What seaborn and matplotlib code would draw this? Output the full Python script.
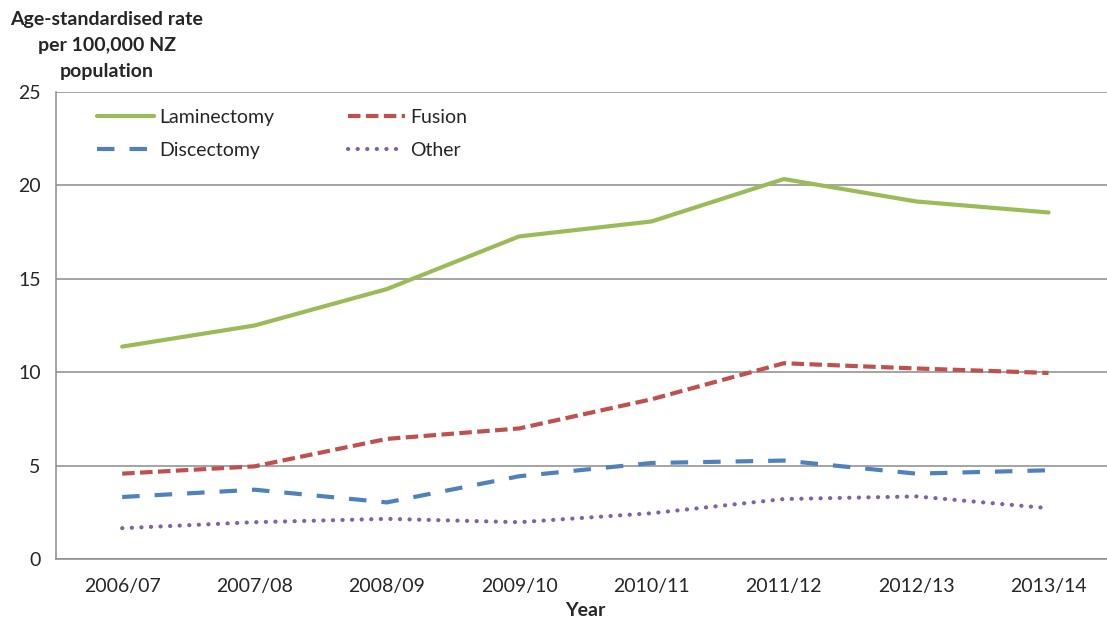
import matplotlib
matplotlib.use("Agg")
import matplotlib.pyplot as plt
import seaborn as sns
import pandas as pd
from matplotlib.lines import Line2D

# Surgical procedure rates by financial year
years = ["2006/07", "2007/08", "2008/09", "2009/10",
         "2010/11", "2011/12", "2012/13", "2013/14"]
laminectomy = [11.37, 12.50, 14.45, 17.27, 18.07, 20.34, 19.14, 18.55]
fusion = [4.57, 4.96, 6.43, 6.99, 8.55, 10.48, 10.20, 9.96]
discectomy = [3.32, 3.71, 3.03, 4.43, 5.14, 5.27, 4.57, 4.75]
other = [1.65, 1.97, 2.15, 1.97, 2.45, 3.21, 3.35, 2.72]

series_names = ["Laminectomy", "Fusion", "Discectomy", "Other"]
y_ticks = [0, 5, 10, 15, 20, 25]

colors = {"Laminectomy": "#9BBB59", "Fusion": "#C0504D",
          "Discectomy": "#4F81BD", "Other": "#8064A2"}
dash_styles = {"Laminectomy": "", "Fusion": (3.0, 1.3),
               "Discectomy": (4.2, 3.6), "Other": (0.05, 2.25)}
cap_styles = {"Laminectomy": "round", "Fusion": "butt",
              "Discectomy": "butt", "Other": "round"}

df = pd.DataFrame({
    "Year": years * 4,
    "Rate": laminectomy + fusion + discectomy + other,
    "Procedure": sum([[n] * len(years) for n in series_names], []),
})

sns.set_theme(style="white")
plt.rcParams["font.family"] = ["Lato", "DejaVu Sans"]
FS = 14

fig = plt.figure(figsize=(11.07, 6.21), dpi=100)
ax = fig.add_axes([56 / 1107, 1 - 559 / 621, (1114.7 - 56) / 1107, (559 - 92) / 621])

sns.lineplot(data=df, x="Year", y="Rate", hue="Procedure", style="Procedure",
             hue_order=series_names, style_order=series_names,
             palette=colors, dashes=dash_styles, linewidth=3.0,
             sort=False, legend=False, ax=ax)

lines = {n: l for n, l in zip(series_names, ax.get_lines())}
for n, line in lines.items():
    line.set_dash_capstyle(cap_styles[n])
    line.set_solid_capstyle("round")
    line.set_clip_on(False)

grid_c = "#8C8C8C"
ax.set_xlim(-0.5, len(years) - 0.5)
ax.set_ylim(0, 25)
ax.set_yticks(y_ticks)
ax.set_yticklabels([str(t) for t in y_ticks], fontsize=FS)
ax.set_xticks(range(len(years)))
ax.set_xticklabels(years, fontsize=FS)
ax.set_xticks([i - 0.5 for i in range(len(years) + 1)], minor=True)
ax.tick_params(axis="x", which="major", length=0, pad=14)
ax.tick_params(axis="x", which="minor", length=6, width=1, color=grid_c, direction="out")
ax.tick_params(axis="y", which="major", length=6, width=1, color=grid_c, direction="out", pad=5)
ax.yaxis.grid(True, color=grid_c, linewidth=1.1)
ax.set_axisbelow(True)
for side in ("top", "right"):
    ax.spines[side].set_visible(False)
for side in ("left", "bottom"):
    ax.spines[side].set_color(grid_c)
    ax.spines[side].set_linewidth(1.1)

ax.set_xlabel("")
ax.set_ylabel("")
fig.text(585 / 1107, 1 - 610 / 621, "Year", ha="center", va="center",
         fontsize=FS, fontweight="bold")
for txt, ypx in [("Age-standardised rate", 20), ("per 100,000 NZ", 46), ("population", 72)]:
    fig.text(107 / 1107, 1 - ypx / 621, txt, ha="center", va="center",
             fontsize=FS, fontweight="bold")

order = ["Laminectomy", "Discectomy", "Fusion", "Other"]
handles = []
for n in order:
    h = Line2D([], [], color=colors[n], linewidth=3.0)
    if dash_styles[n]:
        h.set_dashes(dash_styles[n])
    h.set_dash_capstyle(cap_styles[n])
    h.set_solid_capstyle("round")
    handles.append(h)
ax.legend(handles, order, ncol=2, frameon=False, loc="upper left",
          bbox_to_anchor=(0.039, 0.964), borderaxespad=0, borderpad=0,
          fontsize=FS, handlelength=2.9, handletextpad=0.3,
          columnspacing=3.8, labelspacing=0.84)

fig.savefig("out.png", dpi=100)
